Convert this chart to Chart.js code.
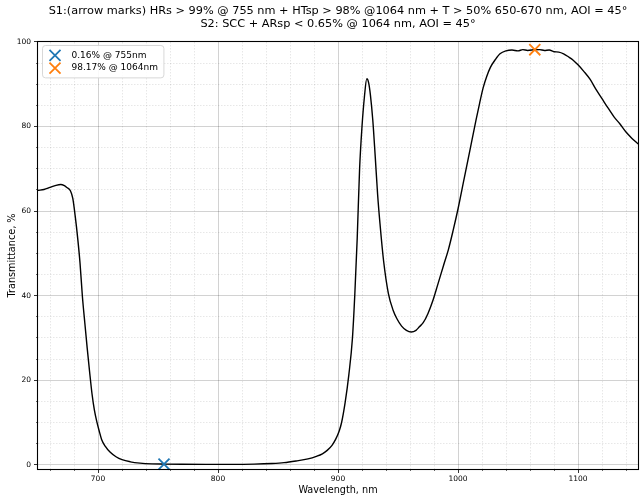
<!DOCTYPE html>
<html>
<head>
    <meta charset="utf-8">
    <title>Transmittance S1/S2</title>
    <script src="https://cdn.jsdelivr.net/npm/chart.js"></script>
    <style>
        html, body { margin: 0; padding: 0; background: #fff; }
        #wrap { width: 644px; height: 500px; }
    </style>
</head>
<body>
    <div id="wrap"><canvas id="myChart" width="644" height="500"></canvas></div>

    <script>
        // Datos
        const wavelength = [650, 655, 660, 665, 669, 672, 674, 677, 679, 681, 683, 685, 687, 689, 691, 693, 695, 697, 699, 701,
            703, 706, 710, 715, 720, 727, 735, 745, 755, 770, 790, 810, 830, 845, 855, 865, 875, 882, 887, 891,
            895, 898, 901, 903, 906, 909, 912, 914, 916, 918, 920, 922, 924, 925.5, 927, 929, 931, 933, 935, 938,
            942, 946, 949, 953, 957, 961, 965, 968, 971, 975, 979, 983, 988, 992, 996, 1000, 1005, 1010, 1015, 1018,
            1021, 1024, 1027, 1031, 1035, 1040, 1045, 1050, 1054, 1058, 1064, 1068, 1072, 1076, 1080, 1084, 1088, 1092, 1096, 1100,
            1105, 1110, 1115, 1120, 1125, 1130, 1135, 1140, 1145, 1150];
        const transmittance = [64.9, 65.1, 65.6, 66.1, 66.3, 66.0, 65.6, 64.8, 63.0, 58.8, 53.8, 47.8, 39.8, 33.6, 27.6, 22.0, 16.8, 12.9, 10.2, 8.0,
            6.0, 4.4, 3.0, 1.9, 1.2, 0.7, 0.4, 0.22, 0.16, 0.12, 0.1, 0.1, 0.15, 0.3, 0.5, 0.9, 1.4, 2.0, 2.6, 3.4,
            4.6, 6.0, 8.0, 10.0, 14.8, 21.2, 29.8, 40.2, 53.5, 70.0, 80.0, 87.0, 91.3, 90.4, 87.5, 81.5, 73.0, 64.0, 57.0, 48.2,
            40.5, 36.5, 34.6, 32.8, 31.8, 31.4, 31.8, 32.7, 33.6, 35.8, 38.8, 42.5, 47.2, 50.9, 55.5, 60.5, 67.5, 74.5, 81.5, 85.5,
            89.2, 91.9, 94.0, 95.8, 97.2, 97.9, 98.1, 97.9, 98.2, 98.0, 98.17, 98.2, 98.0, 98.1, 97.7, 97.6, 97.2, 96.5, 95.7, 94.6,
            93.0, 91.2, 88.8, 86.6, 84.4, 82.3, 80.6, 78.7, 77.2, 75.9];

        // Marcas (flechas)
        const markerWavelength = [755, 1064];
        const markerValue = [0.16, 98.17];
        const markerColors = ['#1f77b4', '#ff7f0e'];

        // Ejes
        const xTicks = [700, 800, 900, 1000, 1100];
        const xMinorTicks = [660, 680, 720, 740, 760, 780, 820, 840, 860, 880, 920, 940, 960, 980, 1020, 1040, 1060, 1080, 1120, 1140];
        const yTicks = [0, 20, 40, 60, 80, 100];
        const yMinorTicks = [5, 10, 15, 25, 30, 35, 45, 50, 55, 65, 70, 75, 85, 90, 95];

        const titleLines = [
            'S1:(arrow marks) HRs > 99% @ 755 nm + HTsp > 98% @1064 nm + T > 50% 650-670 nm, AOI = 45°',
            'S2: SCC + ARsp < 0.65% @ 1064 nm, AOI = 45°'
        ];

        const FONT = "'DejaVu Sans', sans-serif";
        Chart.defaults.font.family = FONT;

        // Marco completo + leyenda dentro del área
        const framePlugin = {
            id: 'frameLegend',
            afterDraw(chart) {
                const { ctx, chartArea: a } = chart;
                ctx.save();
                ctx.strokeStyle = '#000';
                ctx.lineWidth = 1.1;
                ctx.strokeRect(Math.round(a.left) - 0.5, Math.round(a.top) - 0.5,
                    Math.round(a.right - a.left) + 1, Math.round(a.bottom - a.top) + 1);

                const items = chart.data.datasets.filter(d => d.label);
                ctx.font = '9px ' + FONT;
                const rowH = 12.7;
                const bx = a.left + 4.5, by = a.top + 3.5;
                const textW = Math.max(...items.map(d => ctx.measureText(d.label).width));
                const bw = 29 + textW + 6, bh = items.length * rowH + 7;

                ctx.beginPath();
                ctx.roundRect(bx, by, bw, bh, 3);
                ctx.fillStyle = 'rgba(255,255,255,0.85)';
                ctx.fill();
                ctx.strokeStyle = '#d4d4d4';
                ctx.lineWidth = 0.9;
                ctx.stroke();

                items.forEach((d, i) => {
                    const cy = by + 3.5 + rowH * (i + 0.5);
                    const cx = bx + 12.5;
                    const h = d.pointRadius * Math.SQRT1_2;
                    ctx.strokeStyle = d.borderColor;
                    ctx.lineWidth = d.borderWidth;
                    ctx.beginPath();
                    ctx.moveTo(cx - h, cy - h); ctx.lineTo(cx + h, cy + h);
                    ctx.moveTo(cx - h, cy + h); ctx.lineTo(cx + h, cy - h);
                    ctx.stroke();
                    ctx.fillStyle = '#000';
                    ctx.textAlign = 'left';
                    ctx.textBaseline = 'middle';
                    ctx.fillText(d.label, bx + 29, cy);
                });
                ctx.restore();
            }
        };

        // Sin relleno automático de etiquetas en los bordes
        function noEdgePadding(s) {
            s.paddingLeft = 0; s.paddingRight = 0; s.paddingTop = 0; s.paddingBottom = 0;
        }

        function renderChart() {
            const ctx = document.getElementById('myChart').getContext('2d');
            const tickFont = { size: 7.5 };
            const labelFont = { size: 9.7 };

            const curve = wavelength.map((w, i) => ({ x: w, y: transmittance[i] }));
            const markers = markerWavelength.map((w, i) => ({
                label: `${markerValue[i]}% @ ${w}nm`,
                data: [{ x: w, y: markerValue[i] }],
                pointStyle: 'crossRot',
                pointRadius: 7.8,
                borderWidth: 1.8,
                borderColor: markerColors[i],
                backgroundColor: markerColors[i],
                showLine: false,
                clip: false,
                order: 0
            }));

            new Chart(ctx, {
                type: 'scatter',
                data: {
                    datasets: [
                        {
                            data: curve,
                            showLine: true,
                            borderColor: '#000',
                            borderWidth: 1.4,
                            pointRadius: 0,
                            cubicInterpolationMode: 'monotone',
                            order: 1
                        },
                        ...markers
                    ]
                },
                options: {
                    responsive: false,
                    animation: false,
                    events: [],
                    layout: { autoPadding: false, padding: { left: 0, right: 6, top: 0, bottom: 0 } },
                    plugins: {
                        legend: { display: false },
                        tooltip: { enabled: false },
                        title: {
                            display: true,
                            fullSize: false,
                            text: titleLines,
                            color: '#000',
                            font: { size: 11.3, weight: 'normal', lineHeight: 1.15 },
                            padding: { top: 5, bottom: 11 }
                        }
                    },
                    scales: {
                        x: {
                            type: 'linear', position: 'bottom', min: 650, max: 1150, weight: 1,
                            afterBuildTicks: s => { s.ticks = xTicks.map(v => ({ value: v })); },
                            afterFit: s => { s.height = 31; noEdgePadding(s); },
                            ticks: { font: tickFont, color: '#000', padding: 2, maxRotation: 0, autoSkip: false, callback: v => String(v) },
                            grid: { color: 'rgba(0,0,0,0.2)', lineWidth: 0.9, tickLength: 4, tickColor: '#000', tickWidth: 0.8 },
                            border: { display: false },
                            title: { display: true, text: 'Wavelength, nm', color: '#000', font: labelFont, padding: { top: 0, bottom: 4 } }
                        },
                        xMinor: {
                            type: 'linear', position: 'bottom', min: 650, max: 1150, weight: 0,
                            afterBuildTicks: s => { s.ticks = xMinorTicks.map(v => ({ value: v })); },
                            afterFit: s => { s.height = 0; noEdgePadding(s); },
                            ticks: { display: false },
                            grid: { color: 'rgba(0,0,0,0.12)', lineWidth: 0.8, tickLength: 2, tickColor: '#000', tickWidth: 0.6 },
                            border: { display: false, dash: [1.5, 1.5] }
                        },
                        y: {
                            type: 'linear', position: 'left', min: -1, max: 100, weight: 1,
                            afterBuildTicks: s => { s.ticks = yTicks.map(v => ({ value: v })); },
                            afterFit: s => { s.width = 38; noEdgePadding(s); },
                            ticks: { font: tickFont, color: '#000', padding: 3, callback: v => String(v) },
                            grid: { color: 'rgba(0,0,0,0.2)', lineWidth: 0.9, tickLength: 4, tickColor: '#000', tickWidth: 0.8 },
                            border: { display: false },
                            title: { display: true, text: 'Transmittance, %', color: '#000', font: labelFont, padding: { top: 6.5, bottom: 0 } }
                        },
                        yMinor: {
                            type: 'linear', position: 'left', min: -1, max: 100, weight: 0,
                            afterBuildTicks: s => { s.ticks = yMinorTicks.map(v => ({ value: v })); },
                            afterFit: s => { s.width = 0; noEdgePadding(s); },
                            ticks: { display: false },
                            grid: { color: 'rgba(0,0,0,0.12)', lineWidth: 0.8, tickLength: 2, tickColor: '#000', tickWidth: 0.6 },
                            border: { display: false, dash: [1.5, 1.5] }
                        }
                    }
                },
                plugins: [framePlugin]
            });
        }

        window.addEventListener('DOMContentLoaded', renderChart);
    </script>
</body>
</html>
